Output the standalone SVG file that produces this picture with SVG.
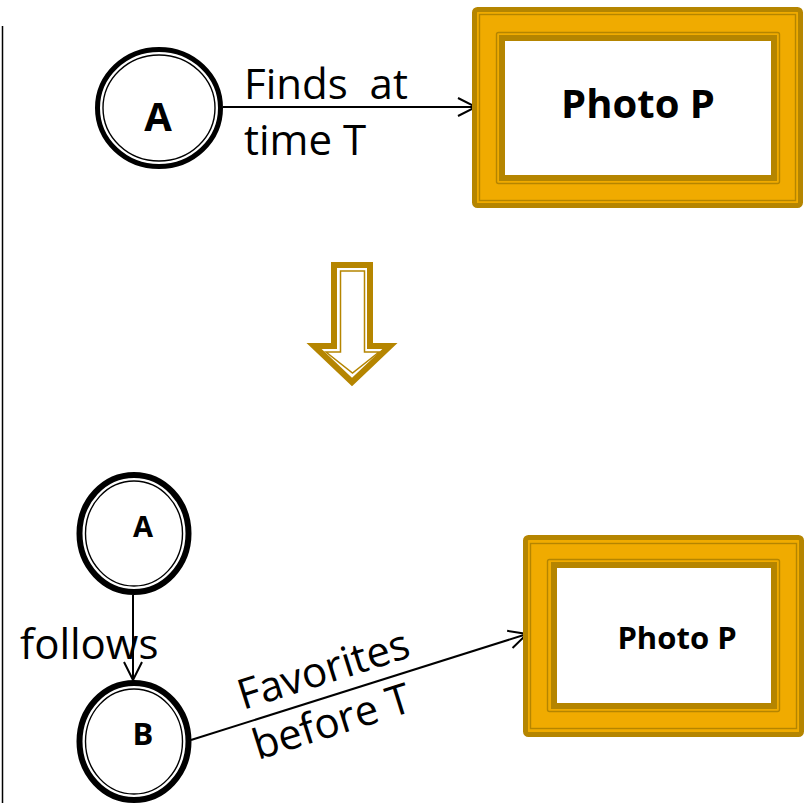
<svg xmlns="http://www.w3.org/2000/svg" width="804" height="803" viewBox="0 0 804 803">
<defs>
<marker id="chev" markerUnits="userSpaceOnUse" markerWidth="22" markerHeight="22" viewBox="0 0 22 22" refX="20" refY="11" orient="auto">
<path d="M2,2 L20,11 L2,20" fill="none" stroke="#000" stroke-width="2"/>
</marker>
</defs>
<style>
.lbl{font-family:"Open Sans","Noto Sans","Liberation Sans",sans-serif;font-size:42px;fill:#000;white-space:pre}
.bold{font-family:"Open Sans","Noto Sans","Liberation Sans",sans-serif;font-weight:bold;fill:#000}
.ring{fill:#fff;stroke:#000}
.thin{fill:none;stroke:#000;stroke-width:1.4}
.edge{stroke:#000;stroke-width:2;fill:none;marker-end:url(#chev)}
.fo{fill:#F0AB00;stroke:#B58500;stroke-width:5}
.fl{fill:none;stroke:#B58500;stroke-width:1.4}
.fw{fill:#fff;stroke:#B58500;stroke-width:6}
</style>
<rect width="804" height="803" fill="#fff"/>
<line x1="2.5" y1="26" x2="2.5" y2="803" stroke="#000" stroke-width="1.5"/>

<g id="connectors">
<line class="edge" x1="223" y1="107" x2="476" y2="107"/>
<line class="edge" x1="133" y1="595" x2="133" y2="680"/>
<line class="edge" x1="191" y1="740" x2="527" y2="634"/>
<text class="lbl" x="244" y="99" xml:space="preserve">Finds  at</text>
<text class="lbl" x="244" y="155">time T</text>
<text class="lbl" x="20" y="659">follows</text>
<text class="lbl" transform="translate(243,710) rotate(-17.5)">Favorites</text>
<text class="lbl" transform="translate(258,760) rotate(-17.5)">before T</text>
</g>

<g id="nodeA1">
<ellipse class="ring" cx="159" cy="108" rx="61.5" ry="58.5" stroke-width="5"/>
<ellipse class="thin" cx="159" cy="108" rx="56" ry="53"/>
<text class="bold" x="158" y="131" font-size="40" text-anchor="middle">A</text>
</g>

<g id="photo1">
<rect class="fo" x="474.5" y="9.5" width="326" height="196" rx="3"/>
<rect class="fl" x="479.5" y="14.5" width="316" height="186"/>
<rect class="fl" x="496.5" y="32.5" width="283" height="151" rx="2"/>
<rect class="fw" x="502" y="38" width="272" height="140"/>
<text class="bold" x="638" y="118" font-size="40" text-anchor="middle">Photo P</text>
</g>

<g id="downArrow">
<polygon points="334,265 370,265 370,346 390,346 352,382 314,346 334,346" fill="#fff" stroke="#B58500" stroke-width="6"/>
<polygon points="340.5,271 364.5,271 364.5,352 379,352 352.5,373 326,352 340.5,352" fill="none" stroke="#B58500" stroke-width="1.5"/>
</g>

<g id="nodeA2">
<ellipse class="ring" cx="134" cy="533.5" rx="54.5" ry="58.5" stroke-width="6"/>
<ellipse class="thin" cx="134" cy="533.5" rx="48.5" ry="52.5"/>
<text class="bold" x="143" y="537" font-size="29" text-anchor="middle">A</text>
</g>

<g id="nodeB">
<ellipse class="ring" cx="134" cy="741.5" rx="54.5" ry="58.5" stroke-width="6"/>
<ellipse class="thin" cx="134" cy="741.5" rx="48.5" ry="52.5"/>
<text class="bold" x="143" y="745" font-size="31" text-anchor="middle">B</text>
</g>

<g id="photo2">
<rect class="fo" x="525.5" y="537.5" width="276" height="197" rx="3"/>
<rect class="fl" x="530.5" y="543.5" width="266" height="185"/>
<rect class="fl" x="547.5" y="559.5" width="232" height="152" rx="2"/>
<rect class="fw" x="554" y="565" width="220" height="141"/>
<text class="bold" x="677" y="649" font-size="31" text-anchor="middle">Photo P</text>
</g>
</svg>
